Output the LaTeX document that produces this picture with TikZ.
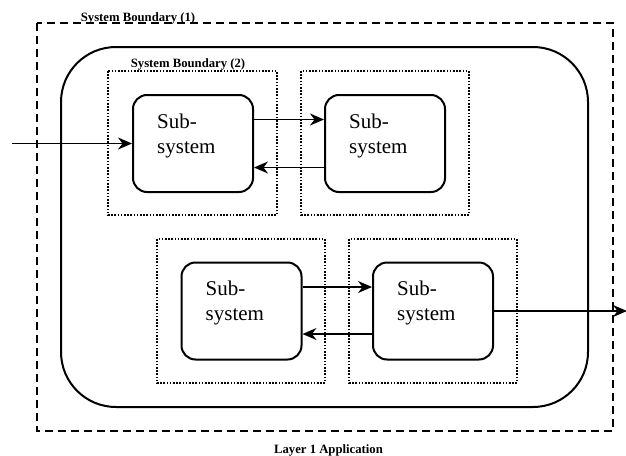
\documentclass[tikz,border=0pt]{standalone}
\usepackage{fontspec}
\setmainfont{Liberation Serif}
\usetikzlibrary{arrows.meta,calc}

\tikzset{
  outerbound/.style={draw, line width=1.6pt, dash pattern=on 8pt off 5pt},
  appframe/.style={draw, line width=2pt, rounded corners=55pt},
  innerbound/.style={draw, line width=1.6pt, dash pattern=on 1.6pt off 1.6pt},
  subbox/.style={draw, line width=2pt, rounded corners=14pt, inner sep=0pt,
    minimum width=120pt, minimum height=97pt},
  subtext/.style={font=\fontsize{21}{25}\selectfont, align=left, inner sep=0pt, anchor=base west},
  boundlabel/.style={font=\fontsize{12.7}{14}\selectfont\bfseries, inner sep=0pt, anchor=base},
  flow/.style={line width=1.7pt, -{Stealth[length=14pt,width=12pt,inset=4.5pt]}},
}

\begin{document}
\begin{tikzpicture}[x=1pt,y=-1pt]
  \useasboundingbox (0,0) rectangle (626,455);

  % system boundary (1) and the application frame
  \draw[outerbound] (37,23) rectangle (613,431);
  \draw[appframe] (61,47) rectangle (588,407);

  % system boundaries (2)
  \draw[innerbound] (108,71) rectangle (277,215);
  \draw[innerbound] (301,71) rectangle (469,215);
  \draw[innerbound] (157,239) rectangle (325,383);
  \draw[innerbound] (349,239) rectangle (517,383);

  % labels
  \node[boundlabel] (lb1) at (138,21) {System Boundary (1)};
  \node[boundlabel] (lb2) at (188,67) {System Boundary (2)};
  \node[boundlabel] (lb3) at (328.5,453) {Layer 1 Application};

  % subsystems
  \node[subbox] (s1) at (193,143.5) {};
  \node[subbox] (s2) at (385,143.5) {};
  \node[subbox] (s3) at (241.5,311) {};
  \node[subbox] (s4) at (433,311) {};

  % the base anchor of a two-line text sits on its last line
  \foreach \s in {s1,s2,s3,s4}
    \node[subtext] (\s t) at ([shift={(25,59)}]\s.north west) {Sub-\\system};

  % connectors
  \coordinate (in) at (12,143.5);
  \coordinate (out) at (627,311);
  \draw[flow] (in) -- (s1.west);
  \draw[flow] ([yshift=24pt]s1.east) -- ([yshift=24pt]s2.west);
  \draw[flow] ([yshift=-24pt]s2.west) -- ([yshift=-24pt]s1.east);
  \draw[flow] ([yshift=24pt]s3.east) -- ([yshift=24pt]s4.west);
  \draw[flow] ([yshift=-23pt]s4.west) -- ([yshift=-23pt]s3.east);
  \draw[flow] (s4.east) -- (out);
\end{tikzpicture}
\end{document}
